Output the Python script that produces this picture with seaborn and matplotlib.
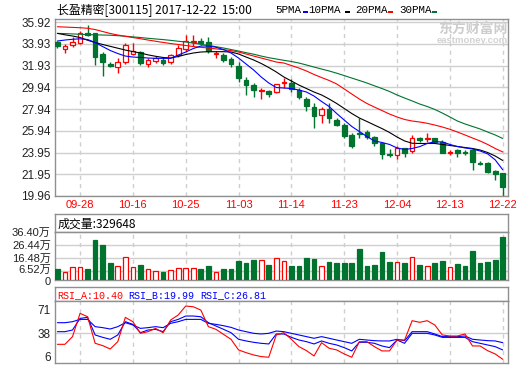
import numpy as np
import matplotlib
matplotlib.use("Agg")
import matplotlib.pyplot as plt
from matplotlib.patches import Rectangle
from matplotlib.transforms import ScaledTranslation
import seaborn as sns

# ---- values ----
dates = ["09-25", "09-26", "09-27", "09-28", "09-29", "10-09", "10-10", "10-11", "10-12", "10-13",
         "10-16", "10-17", "10-18", "10-19", "10-20", "10-23", "10-24", "10-25", "10-26", "10-27",
         "10-30", "10-31", "11-01", "11-02", "11-03", "11-06", "11-07", "11-08", "11-09", "11-10",
         "11-13", "11-14", "11-15", "11-16", "11-17", "11-20", "11-21", "11-22", "11-23", "11-24",
         "11-27", "11-28", "11-29", "11-30", "12-01", "12-04", "12-05", "12-06", "12-07", "12-08",
         "12-11", "12-12", "12-13", "12-14", "12-15", "12-18", "12-19", "12-20", "12-21", "12-22"]
label_dates = ["09-28", "10-16", "10-25", "11-03", "11-14", "11-23", "12-04", "12-13", "12-22"]

open_p = [34.11, 33.47, 33.78, 33.97, 34.94, 34.88, 32.96, 32.04, 31.82, 32.28,
          32.99, 33.20, 32.04, 32.37, 32.44, 32.21, 32.89, 33.44, 34.11, 34.20,
          34.11, 32.96, 32.89, 32.50, 31.91, 30.60, 30.14, 29.62, 29.59, 29.47,
          30.30, 30.33, 29.68, 28.83, 28.15, 27.39, 27.94, 26.93, 26.48, 25.55,
          25.77, 25.86, 25.40, 24.80, 23.82, 23.73, 24.34, 24.12, 25.26, 25.17,
          25.26, 24.89, 23.88, 24.18, 24.03, 24.18, 23.02, 23.02, 22.26, 22.05]
high_p = [34.20, 33.90, 34.52, 35.12, 35.64, 34.95, 33.20, 32.28, 32.59, 34.02,
          34.02, 33.25, 32.65, 32.80, 32.59, 33.00, 33.81, 34.73, 34.73, 34.43,
          34.52, 33.26, 33.08, 32.74, 32.22, 30.90, 30.30, 29.90, 29.68, 30.24,
          30.76, 30.70, 29.84, 29.02, 28.52, 28.10, 28.52, 27.09, 26.69, 25.70,
          27.09, 26.00, 25.50, 24.90, 24.25, 24.55, 24.40, 25.56, 25.35, 25.71,
          25.30, 25.10, 24.18, 24.30, 24.20, 24.25, 23.20, 23.10, 22.35, 22.10]
low_p = [33.50, 33.10, 33.66, 33.95, 34.65, 31.98, 31.00, 31.80, 31.22, 32.07,
         32.90, 31.98, 31.82, 32.19, 31.98, 32.10, 32.74, 33.26, 33.72, 33.81,
         33.05, 32.59, 32.28, 31.82, 30.45, 29.23, 29.07, 28.86, 29.07, 29.41,
         29.84, 29.53, 28.83, 27.79, 26.17, 26.63, 26.69, 26.38, 25.26, 24.34,
         25.26, 25.20, 24.55, 23.36, 23.57, 23.36, 23.57, 23.88, 24.95, 24.94,
         24.85, 23.88, 23.73, 23.57, 23.70, 22.35, 22.80, 22.10, 21.43, 20.00]
close_p = [33.75, 33.72, 34.09, 34.88, 34.70, 32.71, 32.28, 31.86, 32.28, 33.81,
           33.29, 32.19, 32.44, 32.65, 32.19, 32.94, 33.56, 34.18, 34.20, 33.97,
           33.26, 33.05, 32.44, 32.04, 30.76, 30.14, 29.68, 29.68, 29.32, 30.21,
           30.39, 29.80, 29.02, 28.22, 27.30, 27.91, 27.09, 26.48, 25.47, 24.55,
           25.65, 25.40, 24.80, 23.82, 23.73, 24.34, 23.94, 25.26, 25.10, 25.26,
           24.89, 23.94, 24.03, 23.88, 23.88, 23.05, 22.90, 22.19, 21.98, 20.76]

ma5 = [34.18, 34.27, 34.34, 34.38, 34.32, 34.04, 33.67, 33.31, 33.03, 32.80,
       32.71, 32.67, 32.62, 32.59, 32.59, 32.59, 32.89, 33.17, 33.49, 33.72,
       33.72, 33.61, 33.40, 33.08, 32.62, 32.07, 31.52, 30.88, 30.33, 29.91,
       29.87, 29.82, 29.68, 29.50, 29.13, 28.63, 28.17, 27.53, 26.93, 26.34,
       25.88, 25.42, 25.01, 24.87, 24.69, 24.37, 24.23, 24.32, 24.49, 24.78,
       24.94, 24.92, 24.69, 24.50, 24.37, 24.27, 24.09, 23.83, 23.28, 22.37]
ma10 = [34.88, 34.75, 34.64, 34.50, 34.25, 34.04, 33.86, 33.69, 33.52, 33.35,
        33.21, 33.08, 32.91, 32.78, 32.67, 32.62, 32.76, 32.94, 33.08, 33.17,
        33.20, 33.20, 33.20, 33.17, 32.99, 32.71, 32.44, 32.12, 31.75, 31.34,
        30.88, 30.51, 30.14, 29.82, 29.50, 29.23, 28.86, 28.45, 27.99, 27.53,
        27.12, 26.80, 26.47, 26.15, 25.79, 25.37, 25.01, 24.80, 24.78, 24.78,
        24.78, 24.69, 24.60, 24.50, 24.41, 24.32, 24.18, 23.95, 23.63, 23.22]
ma20 = [35.49, 35.46, 35.43, 35.40, 35.35, 35.23, 35.05, 34.87, 34.73, 34.61,
        34.50, 34.39, 34.27, 34.16, 34.05, 33.95, 33.86, 33.77, 33.67, 33.60,
        33.54, 33.46, 33.38, 33.30, 33.17, 32.99, 32.80, 32.62, 32.44, 32.25,
        32.16, 31.93, 31.70, 31.43, 31.11, 30.83, 30.56, 30.24, 29.78, 29.32,
        28.86, 28.45, 28.12, 27.80, 27.48, 27.21, 26.98, 26.84, 26.75, 26.63,
        26.47, 26.29, 26.08, 25.83, 25.56, 25.28, 25.01, 24.69, 24.32, 24.00]
ma30 = [34.88, 34.86, 34.83, 34.80, 34.77, 34.75, 34.73, 34.71, 34.67, 34.62,
        34.56, 34.50, 34.43, 34.37, 34.31, 34.24, 34.16, 34.09, 33.99, 33.88,
        33.77, 33.66, 33.54, 33.40, 33.26, 33.11, 32.97, 32.80, 32.65, 32.53,
        32.41, 32.30, 32.16, 31.98, 31.79, 31.61, 31.43, 31.23, 31.01, 30.78,
        30.56, 30.33, 30.07, 29.82, 29.55, 29.23, 28.95, 28.68, 28.40, 28.17,
        27.90, 27.57, 27.21, 26.84, 26.57, 26.34, 26.11, 25.83, 25.56, 25.24]

# volume in 万 (last bar is the 329648 shown in the header)
volume = [8.3, 5.8, 9.6, 9.6, 8.3, 30.3, 26.5, 13.1, 10.6, 17.2,
          9.6, 11.4, 8.1, 6.8, 6.3, 7.6, 8.8, 8.8, 8.8, 8.3,
          10.6, 5.8, 8.3, 8.3, 14.4, 13.1, 15.2, 15.2, 11.4, 16.4,
          14.4, 10.6, 10.6, 16.9, 15.9, 10.6, 13.9, 13.1, 13.1, 13.1,
          23.5, 10.6, 11.4, 21.5, 13.9, 13.4, 13.1, 17.2, 11.4, 10.6,
          13.1, 14.4, 9.6, 12.1, 10.6, 22.0, 13.1, 13.9, 15.2, 32.9648]

rsi_a = [22.7, 22.7, 33.4, 65.8, 61.1, 24.1, 20.9, 16.2, 26.4, 60.2,
         54.2, 38.0, 40.3, 44.9, 38.9, 56.5, 63.5, 76.0, 75.0, 70.4,
         47.3, 43.6, 36.6, 29.7, 14.9, 11.1, 7.9, 5.6, 4.7, 35.7,
         38.9, 29.7, 19.5, 13.9, 6.5, 25.0, 17.2, 14.9, 9.3, 4.7,
         26.4, 26.4, 19.5, 13.5, 13.5, 28.7, 28.7, 55.6, 53.3, 55.6,
         49.6, 35.7, 34.3, 34.3, 37.1, 20.4, 20.4, 13.9, 9.3, 1.9]
rsi_b = [40.3, 40.3, 42.6, 58.8, 60.2, 35.7, 32.4, 29.7, 35.7, 54.2,
         50.5, 38.9, 42.6, 43.6, 40.3, 54.2, 57.4, 62.1, 62.1, 61.1,
         52.8, 48.2, 43.6, 38.9, 29.7, 27.4, 25.5, 24.1, 23.2, 37.1,
         37.1, 32.4, 28.7, 26.4, 23.2, 27.4, 24.1, 21.8, 18.1, 13.5,
         25.5, 25.5, 24.1, 20.4, 18.1, 28.7, 24.1, 38.0, 38.0, 38.0,
         35.7, 32.4, 32.4, 32.4, 32.4, 26.4, 24.1, 21.8, 19.5, 14.9]
rsi_c = [52.8, 52.8, 54.2, 57.4, 57.4, 47.3, 45.9, 44.0, 47.3, 52.8,
         49.6, 44.9, 45.9, 47.3, 45.9, 51.9, 54.2, 57.4, 57.4, 57.4,
         51.9, 50.5, 48.6, 46.3, 42.6, 40.3, 38.0, 37.1, 38.0, 41.2,
         40.3, 38.0, 35.7, 33.4, 31.1, 33.4, 31.1, 28.7, 26.4, 24.1,
         29.7, 28.7, 27.8, 27.4, 27.4, 29.7, 27.8, 40.3, 40.3, 40.3,
         37.1, 33.4, 33.4, 33.4, 34.3, 29.7, 28.7, 27.8, 27.4, 25.0]
rsi_last = {"RSI_A": 10.40, "RSI_B": 19.99, "RSI_C": 26.81}

price_ticks = [19.96, 21.95, 23.95, 25.94, 27.94, 29.94, 31.93, 33.93, 35.92]
vol_ticks = [0, 6.52, 16.48, 26.44, 36.40]
rsi_ticks = [6, 38, 71]

RED = "#ff0000"
GREEN = "#00732f"
BLUE = "#0000ff"
GRID = "#cfcfcf"
FRAME = "#8f8f8f"

sns.set_style("white")
plt.rcParams["font.family"] = ["Liberation Sans", "Noto Sans CJK SC"]

W, H = 520, 365
fig = plt.figure(figsize=(W / 100, H / 100), dpi=100)


def box(x0, y0, x1, y1):
    return [x0 / W, 1 - y1 / H, (x1 - x0) / W, (y1 - y0) / H]


ax = fig.add_axes(box(55, 19, 508, 196))
ax_vh = fig.add_axes(box(55, 214, 508, 232))
ax_v = fig.add_axes(box(55, 232, 508, 280))
ax_rh = fig.add_axes(box(55, 287, 508, 301))
ax_r = fig.add_axes(box(55, 301, 508, 363))

x = np.arange(len(dates))
tick_idx = [dates.index(d) for d in label_dates]

for a in (ax, ax_vh, ax_v, ax_rh, ax_r):
    for s in a.spines.values():
        s.set_color(FRAME)
        s.set_linewidth(1)
    a.set_xlim(-0.32, 59.7)
    a.tick_params(length=0, labelsize=8.5, colors="#222222", pad=3)
    a.set_axisbelow(True)

for a in (ax_vh, ax_rh):
    a.set_xticks([])
    a.set_yticks([])

# ---- candles ----
o, hi, lo, c = map(np.array, (open_p, high_p, low_p, close_p))
up = c >= o
top = np.maximum(o, c)
bot = np.minimum(o, c)
hgt = np.maximum(top - bot, 0.04)
for mask, fc, ec in ((up, "white", RED), (~up, GREEN, GREEN)):
    ax.vlines(x[mask], top[mask], hi[mask], color=ec, lw=1, zorder=2)
    ax.vlines(x[mask], lo[mask], bot[mask], color=ec, lw=1, zorder=2)
    ax.bar(x[mask], hgt[mask], bottom=bot[mask], width=0.62,
           facecolor=fc, edgecolor=ec, linewidth=0.9, zorder=3)

for vals, col in ((ma30, GREEN), (ma20, RED), (ma10, "black"), (ma5, BLUE)):
    sns.lineplot(x=x, y=vals, ax=ax, color=col, linewidth=0.8, zorder=4, legend=False)

ax.set_ylim(19.96, 36.20)
ax.set_yticks(price_ticks)
ax.set_yticklabels([f"{t:.2f}" for t in price_ticks])
ax.set_xticks(tick_idx)
ax.set_xticklabels(label_dates, color=RED, fontsize=8)
ax.grid(axis="y", color=GRID, lw=1)
ax.grid(axis="x", color=GRID, lw=1, ls=(0, (3, 3)))
ax.set_xlabel("")
ax.set_ylabel("")

# ---- volume ----
vol = np.array(volume)
ax_v.bar(x[up], vol[up], width=0.62, facecolor="white", edgecolor=RED, linewidth=0.9, zorder=3)
ax_v.bar(x[~up], vol[~up], width=0.62, facecolor=GREEN, edgecolor=GREEN, linewidth=0.9, zorder=3)
ax_v.set_ylim(0, 36.40)
ax_v.set_yticks(vol_ticks)
ax_v.set_yticklabels(["0"] + [f"{t:.2f}万" for t in vol_ticks[1:]], fontsize=8)
ax_v.set_xticks(tick_idx)
ax_v.set_xticklabels([])
ax_v.grid(axis="y", color=GRID, lw=1)
ax_v.grid(axis="x", color=GRID, lw=1, ls=(0, (3, 3)))
# keep the "6.52万" label clear of the "0" label
lbl = ax_v.get_yticklabels()[1]
lbl.set_transform(lbl.get_transform() + ScaledTranslation(0, 1.5 / 72, fig.dpi_scale_trans))
lbl0 = ax_v.get_yticklabels()[0]
lbl0.set_transform(lbl0.get_transform() + ScaledTranslation(0, -1.0 / 72, fig.dpi_scale_trans))

ax_vh.text(0.005, 0.45, f"成交量:{int(round(volume[-1] * 10000))}", transform=ax_vh.transAxes,
           ha="left", va="center", fontsize=8.6, family=["Noto Sans CJK SC"], color="black")

# ---- RSI ----
for vals, col in ((rsi_c, BLUE), (rsi_b, BLUE), (rsi_a, RED)):
    sns.lineplot(x=x, y=vals, ax=ax_r, color=col, linewidth=0.8, zorder=4, legend=False)
ax_r.set_ylim(-3.3, 83)
ax_r.set_yticks(rsi_ticks)
ax_r.set_yticklabels([str(t) for t in rsi_ticks])
ax_r.set_xticks(tick_idx)
ax_r.set_xticklabels([])
ax_r.axhline(38, color=GRID, lw=1, zorder=1)
ax_r.grid(axis="x", color=GRID, lw=1, ls=(0, (3, 3)))
ax_r.set_xlabel("")
ax_r.set_ylabel("")

mono = ["Liberation Mono", "DejaVu Sans Mono"]
for (name, val), col, fx in zip(rsi_last.items(), (RED, BLUE, BLUE), (0.005, 0.162, 0.32)):
    ax_rh.text(fx, 0.45, f"{name}:{val:.2f}", transform=ax_rh.transAxes, ha="left", va="center",
               fontsize=7.2, family=mono, color=col)

# ---- header ----
fig.text(57 / W, 1 - 10 / H, "长盈精密[300115] 2017-12-22  15:00", ha="left", va="center",
         fontsize=8.6, family=["Noto Sans CJK SC"], color="black")
legend_items = [("5PMA", BLUE, 275, 303), ("10PMA", "black", 308, 345),
                ("20PMA", RED, 355, 388), ("30PMA", GREEN, 399, 432)]
for name, col, tx, dx in legend_items:
    fig.text(tx / W, 1 - 10 / H, name, ha="left", va="center", fontsize=7.8, family=mono, color="black")
    fig.add_artist(Rectangle((dx / W, 1 - 12.8 / H), 5 / W, 2 / H, transform=fig.transFigure,
                             facecolor=col, edgecolor="none"))

# watermark
fig.text(473 / W, 1 - 29 / H, "东方财富网", ha="center", va="center", fontsize=10,
         family=["Noto Sans CJK SC"], weight="bold", color="#cdcdcd", zorder=0)
fig.text(472 / W, 1 - 40.5 / H, "eastmoney.com", ha="center", va="center", fontsize=6.8,
         weight="bold", color="#d2d2d2", zorder=0)

fig.savefig("out.png", dpi=100)
